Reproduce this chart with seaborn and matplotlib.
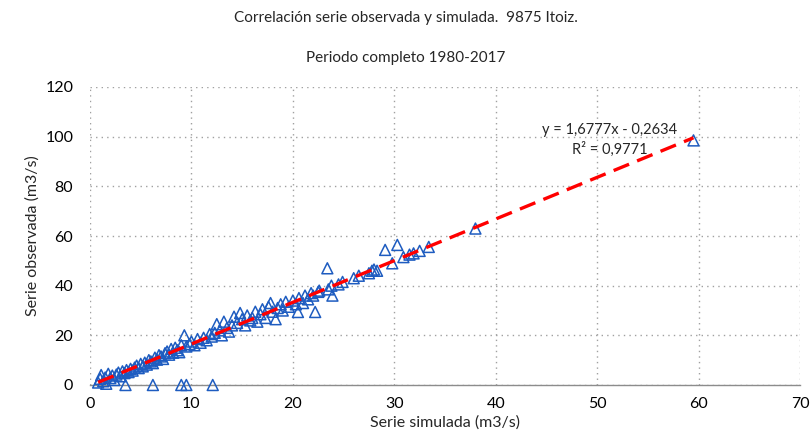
import numpy as np
import pandas as pd
import matplotlib
matplotlib.use("Agg")
import matplotlib.pyplot as plt
import seaborn as sns

# ---- data ----
sim = [0.8, 1.0, 1.1, 1.3, 1.5, 1.6, 1.8, 2.0, 2.2, 2.4, 2.6, 2.8, 3.0, 3.2, 3.4, 3.6, 3.8, 4.0,
       4.2, 4.4, 4.6, 4.8, 5.0, 5.2, 5.4, 5.6, 5.8, 6.0, 6.2, 6.4, 6.6, 6.8, 7.0, 7.2, 7.4, 7.6,
       7.8, 8.0, 8.2, 8.4, 8.6, 8.8, 9.0, 9.3, 9.5, 9.8, 10.0, 10.3, 10.6, 10.9, 11.2, 11.5, 11.8,
       12.0, 12.3, 12.5, 12.8, 13.0, 13.2, 13.5, 13.7, 14.0, 14.2, 14.5, 14.8, 15.0, 15.3, 15.5,
       15.8, 16.0, 16.3, 16.5, 16.8, 17.0, 17.3, 17.6, 17.8, 18.0, 18.3, 18.5, 18.8, 19.0, 19.3,
       19.6, 20.0, 20.3, 20.5, 20.6, 21.0, 21.2, 21.5, 21.8, 22.0, 22.2, 22.5, 22.6, 23.4, 23.5,
       23.8, 23.9, 24.5, 24.9, 26.0, 26.5, 27.5, 27.8, 28.0, 28.3, 29.1, 29.8, 30.3, 30.9, 31.5,
       31.9, 32.5, 33.4, 38.0, 59.5,
       3.5, 6.2, 9.0, 9.5, 12.1]
obs = [1.0, 2.5, 4.0, 1.5, 3.0, 0.5, 4.5, 2.8, 3.8, 2.0, 4.2, 5.0, 3.5, 5.5, 4.8, 6.0, 5.2, 6.5,
       5.8, 7.0, 7.8, 6.8, 8.5, 7.5, 9.0, 8.2, 10.0, 9.5, 8.8, 11.0, 10.2, 12.0, 11.5, 10.5, 12.8,
       13.5, 12.2, 14.5, 13.0, 15.0, 14.0, 13.2, 16.0, 20.0, 15.5, 16.5, 17.5, 16.0, 18.5, 17.0,
       19.0, 18.0, 20.5, 19.5, 21.0, 24.5, 22.0, 20.0, 25.5, 23.0, 21.5, 24.0, 27.5, 25.0, 29.0,
       26.5, 24.0, 28.0, 26.0, 27.0, 29.5, 25.5, 28.5, 30.5, 27.0, 31.5, 33.0, 29.5, 26.5, 31.0,
       32.5, 30.0, 33.5, 31.5, 34.0, 32.5, 29.4, 35.0, 33.0, 36.0, 34.5, 37.0, 36.0, 29.4, 37.5,
       38.0, 47.0, 38.5, 40.0, 36.0, 40.5, 41.5, 43.0, 44.0, 45.0, 46.0, 46.5, 46.0, 54.4, 49.0,
       56.4, 51.5, 52.5, 53.0, 54.0, 55.6, 63.0, 98.5,
       0.0, 0.0, 0.0, 0.0, 0.0]
slope = 1.6777
intercept = -0.2634
r2 = 0.9771
x_ticks = [0, 10, 20, 30, 40, 50, 60, 70]
y_ticks = [0, 20, 40, 60, 80, 100, 120]

title1 = "Correlación serie observada y simulada.  9875 Itoiz."
title2 = "Periodo completo 1980-2017"

df = pd.DataFrame({"sim": sim, "obs": obs})
xmin, xmax = min(sim), max(sim)
trend = pd.DataFrame({"x": [xmin, xmax],
                      "y": [slope * xmin + intercept, slope * xmax + intercept]})

sns.set_style("white")
plt.rcParams["font.family"] = ["Lato", "DejaVu Sans"]

fig = plt.figure(figsize=(8.11, 4.41), dpi=100)
ax = fig.add_axes([90 / 811, 1 - 385 / 441, 710 / 811, 298 / 441])

sns.scatterplot(data=df, x="sim", y="obs", ax=ax, marker="^", s=62,
                facecolor="none", edgecolor="#1E5CC0", linewidth=1.1, zorder=3,
                clip_on=False)
sns.lineplot(data=trend, x="x", y="y", ax=ax, color="#FF0000", linewidth=2.4,
             zorder=4)
ax.lines[-1].set_dashes((5, 2.6))
ax.lines[-1].set_dash_capstyle("butt")

ax.set_xlim(0, 70)
ax.set_ylim(0, 120)
ax.set_xticks(x_ticks)
ax.set_yticks(y_ticks)
ax.grid(True, linestyle=(0, (1, 3)), color="#A0A0A0", linewidth=1.0)
ax.set_axisbelow(True)
for s in ["top", "right", "left"]:
    ax.spines[s].set_visible(False)
ax.spines["bottom"].set_color("#8C8C8C")
ax.spines["bottom"].set_linewidth(1.0)
ax.tick_params(axis="y", length=0, labelsize=11.5, colors="#000000", pad=12)
ax.tick_params(axis="x", length=4, width=1, color="#8C8C8C", direction="out",
               labelsize=11.5, labelcolor="#000000", pad=5)

ax.set_xlabel("Serie simulada (m3/s)", fontsize=11.5, labelpad=3)
ax.set_ylabel("Serie observada (m3/s)", fontsize=11.5, labelpad=4)

fig.text(0.5, 1 - 18 / 441, title1, ha="center", va="center", fontsize=11)
fig.text(0.5, 1 - 58 / 441, title2, ha="center", va="center", fontsize=11)

ax.text(51.2, 102.7, f"y = {slope:.4f}x - {abs(intercept):.4f}".replace(".", ","),
        ha="center", va="center", fontsize=10.5)
ax.text(51.2, 95.0, f"R² = {r2:.4f}".replace(".", ","),
        ha="center", va="center", fontsize=10.5)

fig.savefig("out.png", dpi=100)
